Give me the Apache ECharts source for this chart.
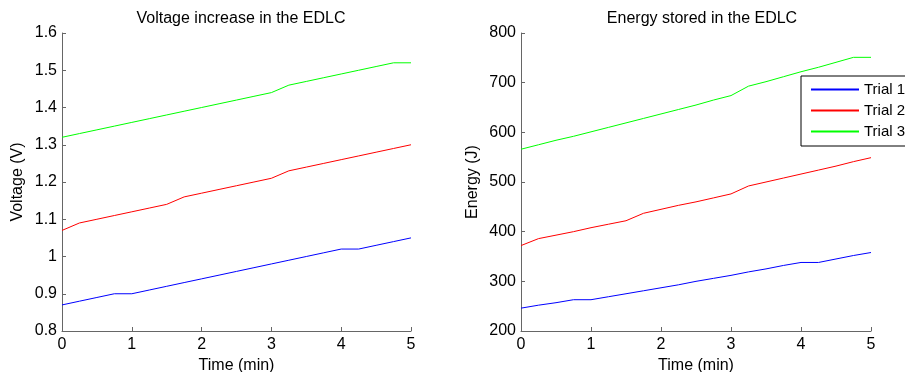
<!DOCTYPE html>
<html>
<head>
<meta charset="utf-8">
<script src="https://cdn.jsdelivr.net/npm/echarts@6/dist/echarts.min.js"></script>
<style>
html,body{margin:0;padding:0;background:#fff;}
#main{width:905px;height:372px;}
</style>
</head>
<body>
<div id="main"></div>
<script>
// time in minutes, one reading every 15 s
var times = [0,0.25,0.5,0.75,1,1.25,1.5,1.75,2,2.25,2.5,2.75,3,3.25,3.5,3.75,4,4.25,4.5,4.75,5];

var volt1 = [0.87,0.88,0.89,0.90,0.90,0.91,0.92,0.93,0.94,0.95,0.96,0.97,0.98,0.99,1.00,1.01,1.02,1.02,1.03,1.04,1.05];
var volt2 = [1.07,1.09,1.10,1.11,1.12,1.13,1.14,1.16,1.17,1.18,1.19,1.20,1.21,1.23,1.24,1.25,1.26,1.27,1.28,1.29,1.30];
var volt3 = [1.32,1.33,1.34,1.35,1.36,1.37,1.38,1.39,1.40,1.41,1.42,1.43,1.44,1.46,1.47,1.48,1.49,1.50,1.51,1.52,1.52];

var energy1 = [246,252,257,263,263,269,275,281,287,293,300,306,312,319,325,332,338,338,345,352,358];
var energy2 = [372,386,393,400,408,415,422,437,445,453,460,468,476,492,500,508,516,524,532,541,549];
var energy3 = [566,575,584,592,601,610,619,628,637,646,655,665,674,693,702,712,722,731,741,751,751];

var trialNames = ["Trial 1","Trial 2","Trial 3"];
var colors = ["#0000ff","#ff0000","#00ff00"];

function pairs(vals){
    return vals.map((v,i)=>[times[i],v]);
}

var font = "Liberation Sans, Arial, sans-serif";
var axisCol = "#666";

function xAx(idx){
    return {
        gridIndex: idx, type: 'value', min: 0, max: 5, interval: 1,
        name: 'Time (min)', nameLocation: 'middle', nameGap: 25,
        nameTextStyle: {color:'#000', fontSize: 16, fontFamily: font},
        axisLine: {lineStyle:{color: axisCol, width: 1}},
        axisTick: {inside: true, length: 4, lineStyle:{color: axisCol}},
        axisLabel: {color:'#000', fontSize: 16, fontFamily: font, margin: 6},
        splitLine: {show: false}
    };
}
function yAx(idx, name, min, max, interval, gap){
    return {
        gridIndex: idx, type: 'value', min: min, max: max, interval: interval,
        name: name, nameLocation: 'middle', nameGap: gap,
        nameTextStyle: {color:'#000', fontSize: 16, fontFamily: font},
        axisLine: {show: true, lineStyle:{color: axisCol, width: 1}},
        axisTick: {show: true, inside: true, length: 4, lineStyle:{color: axisCol}},
        axisLabel: {color:'#000', fontSize: 16, fontFamily: font, margin: 5},
        splitLine: {show: false}
    };
}

var chart = echarts.init(document.getElementById('main'));
var series = [];
[volt1,volt2,volt3].forEach(function(d,i){
    series.push({name: trialNames[i], type:'line', xAxisIndex:0, yAxisIndex:0,
        data: pairs(d), symbol:'none', lineStyle:{color:colors[i], width:1}, itemStyle:{color:colors[i]}});
});
[energy1,energy2,energy3].forEach(function(d,i){
    series.push({name: trialNames[i], type:'line', xAxisIndex:1, yAxisIndex:1,
        data: pairs(d), symbol:'none', lineStyle:{color:colors[i], width:1}, itemStyle:{color:colors[i]}});
});

chart.setOption({
    animation: false,
    backgroundColor: '#fff',
    title: [
        {text: 'Voltage increase in the EDLC', left: 236, top: 6, textAlign: 'center',
         textStyle:{fontSize:16, fontWeight:'normal', color:'#000', fontFamily: font}},
        {text: 'Energy stored in the EDLC', left: 697, top: 6, textAlign: 'center',
         textStyle:{fontSize:16, fontWeight:'normal', color:'#000', fontFamily: font}}
    ],
    legend: {
        data: trialNames, orient: 'vertical', left: 801, top: 76,
        itemWidth: 48, itemHeight: 14, itemGap: 6,
        padding: [6, 8, 7, 9],
        borderColor: '#000', borderWidth: 1, backgroundColor: '#fff',
        itemStyle: {opacity: 0},
        textStyle: {color:'#000', fontSize: 15, fontFamily: font}
    },
    grid: [
        {left: 62, right: 494, top: 33, bottom: 41, outerBoundsMode: 'none'},
        {left: 521, right: 34, top: 33, bottom: 41, outerBoundsMode: 'none'}
    ],
    xAxis: [xAx(0), xAx(1)],
    yAxis: [yAx(0, 'Voltage (V)', 0.8, 1.6, 0.1, 36), yAx(1, 'Energy (J)', 200, 800, 100, 40)],
    series: series
});
</script>
</body>
</html>
